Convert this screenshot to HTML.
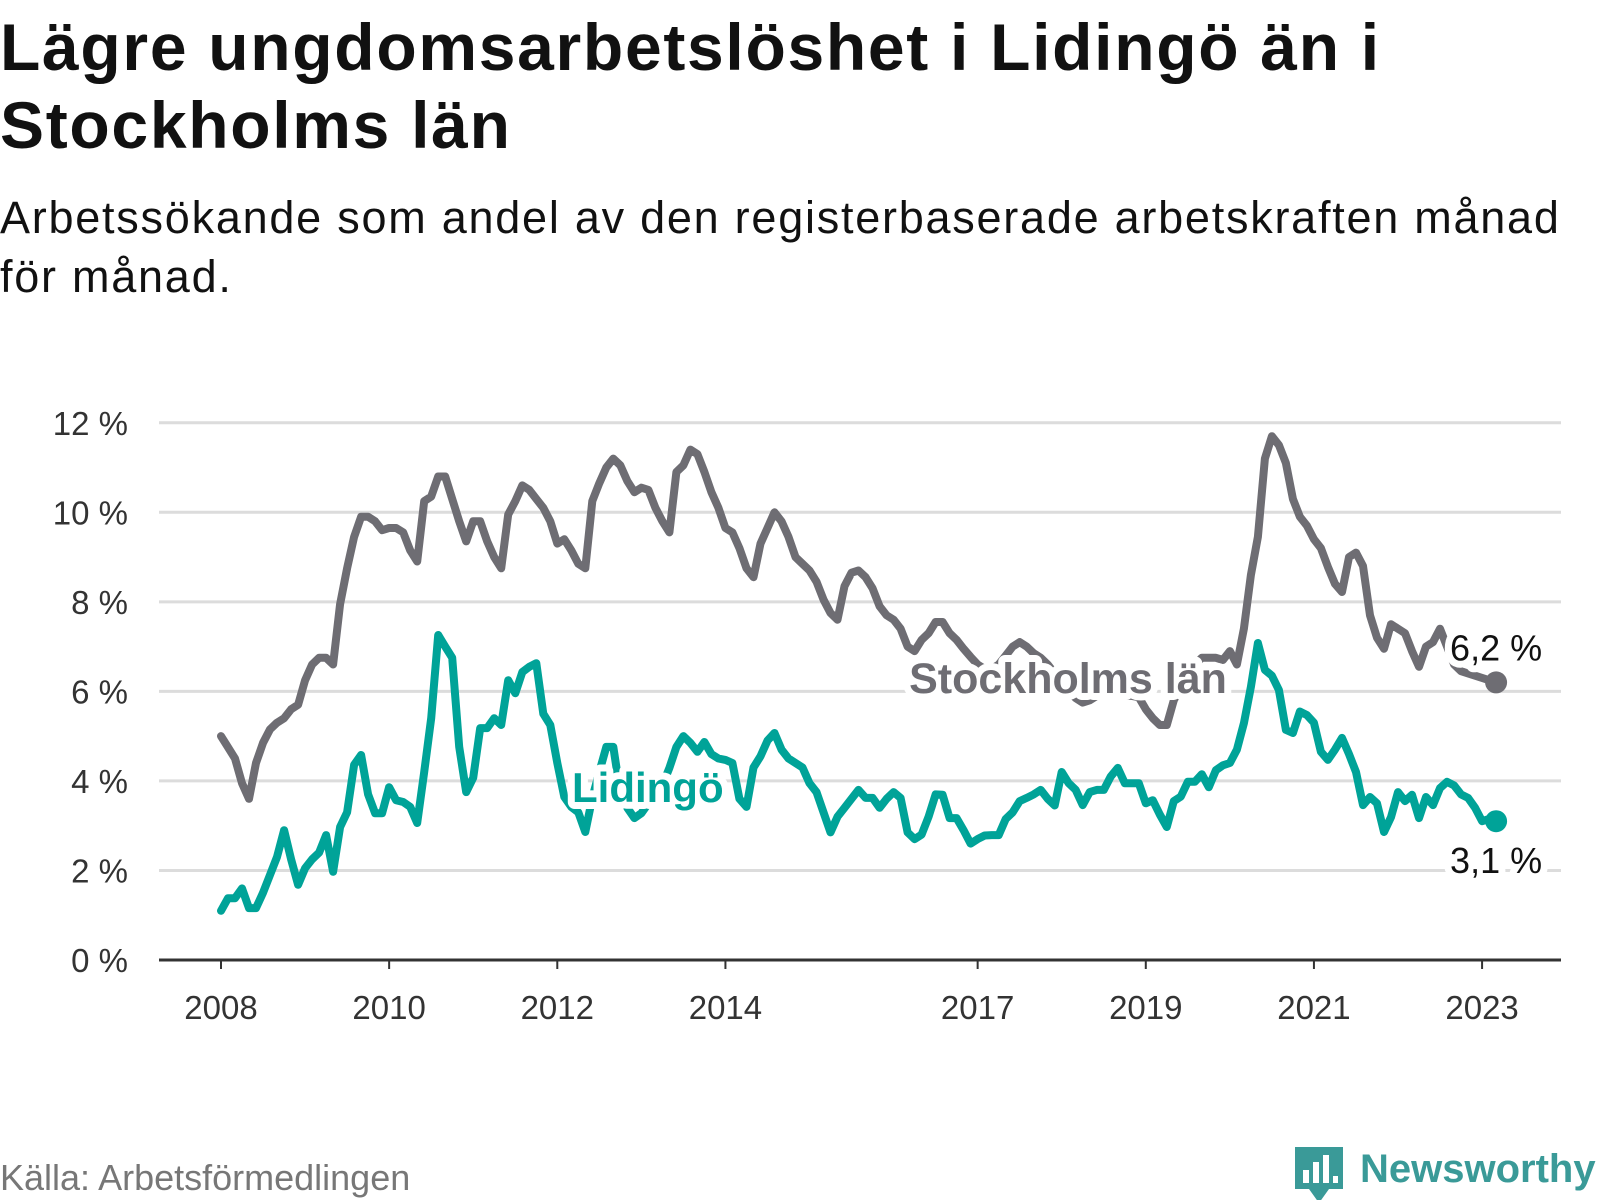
<!DOCTYPE html>
<html><head><meta charset="utf-8">
<style>
html,body{margin:0;padding:0;background:#fff;width:1600px;height:1200px;overflow:hidden;}
svg{display:block;}
</style></head>
<body>
<svg id="chart" width="1600" height="1200" xmlns="http://www.w3.org/2000/svg" font-family="'Liberation Sans', sans-serif">
  <text x="0" y="70" font-size="66" font-weight="bold" letter-spacing="1.7" fill="#111">Lägre ungdomsarbetslöshet i Lidingö än i</text>
  <text x="0" y="148" font-size="66" font-weight="bold" letter-spacing="1.7" fill="#111">Stockholms län</text>
  <text x="0" y="233" font-size="45" letter-spacing="1.75" fill="#111">Arbetssökande som andel av den registerbaserade arbetskraften månad</text>
  <text x="0" y="292" font-size="45" letter-spacing="1.75" fill="#111">för månad.</text>
  <g id="grid"></g>
  <g id="yaxis"></g>
  <g id="xaxis"></g>
  <g id="series"></g>
  <g id="labels"></g>
  <text x="0" y="1190" font-size="36" fill="#777">Källa: Arbetsförmedlingen</text>
  <g>
    <path d="M1295 1147 h48 v42 h-14 l-10 14 l-10 -14 h-14 z" fill="#3a9a98"/>
    <rect x="1303" y="1170" width="6" height="13" fill="#fff"/>
    <rect x="1313" y="1162" width="6" height="21" fill="#fff"/>
    <rect x="1323" y="1155" width="6" height="28" fill="#fff"/>
    <rect x="1333" y="1176" width="5" height="7" fill="#fff"/>
    <text x="1360" y="1182" font-size="40" font-weight="bold" fill="#3a9a98">Newsworthy</text>
  </g>
</svg>
<script>
const yTicks = [0, 2, 4, 6, 8, 10, 12];
const yTickLabels = ["0 %", "2 %", "4 %", "6 %", "8 %", "10 %", "12 %"];
const xTickYears = [2008, 2010, 2012, 2014, 2017, 2019, 2021, 2023];
const startYear = 2008;
const stockholm = [
5.0,4.75,4.5,3.95,3.6,4.4,4.85,5.15,5.3,5.4,5.6,5.7,
6.25,6.6,6.75,6.75,6.6,7.95,8.75,9.45,9.9,9.9,9.8,9.6,
9.65,9.65,9.55,9.15,8.9,10.25,10.35,10.8,10.8,10.3,9.8,9.35,
9.8,9.8,9.35,9.0,8.75,9.95,10.25,10.6,10.5,10.3,10.1,9.8,
9.3,9.4,9.15,8.85,8.75,10.25,10.65,11.0,11.2,11.05,10.7,10.45,
10.55,10.5,10.1,9.8,9.55,10.9,11.05,11.4,11.3,10.9,10.45,10.1,
9.65,9.55,9.2,8.75,8.55,9.3,9.65,10.0,9.8,9.45,9.0,8.85,
8.7,8.45,8.05,7.75,7.6,8.35,8.65,8.7,8.55,8.3,7.9,7.7,
7.6,7.4,7.0,6.9,7.15,7.3,7.55,7.55,7.3,7.15,6.95,6.77,
6.6,6.5,6.5,6.6,6.8,7.0,7.1,7.0,6.85,6.75,6.6,6.4,
6.2,6.0,5.85,5.75,5.8,5.9,6.0,6.1,6.0,5.9,5.9,5.87,
5.6,5.4,5.25,5.25,5.8,6.1,6.4,6.6,6.75,6.75,6.75,6.7,
6.9,6.6,7.4,8.6,9.45,11.2,11.7,11.5,11.1,10.3,9.9,9.7,
9.4,9.2,8.78,8.4,8.22,9.0,9.1,8.8,7.7,7.2,6.95,7.5,
7.4,7.3,6.9,6.55,7.0,7.1,7.4,7.0,6.6,6.45,6.4,6.35,
6.3,6.25,6.2];
const lidingo = [
1.1,1.38,1.38,1.6,1.16,1.16,1.5,1.9,2.3,2.9,2.25,1.68,
2.05,2.25,2.4,2.79,1.97,2.97,3.3,4.36,4.58,3.7,3.28,3.28,
3.86,3.57,3.53,3.42,3.06,4.2,5.4,7.26,7.0,6.75,4.76,3.75,
4.07,5.18,5.18,5.4,5.25,6.25,5.96,6.43,6.55,6.63,5.5,5.25,
4.4,3.64,3.42,3.3,2.86,3.62,4.2,4.76,4.76,3.73,3.4,3.17,
3.28,3.5,3.55,3.9,4.29,4.76,5.0,4.85,4.65,4.87,4.6,4.5,
4.47,4.4,3.6,3.42,4.3,4.55,4.9,5.07,4.7,4.5,4.4,4.3,
3.95,3.75,3.3,2.85,3.2,3.4,3.6,3.8,3.62,3.62,3.4,3.6,
3.75,3.62,2.85,2.7,2.8,3.2,3.7,3.69,3.17,3.17,2.9,2.6,
2.7,2.78,2.79,2.79,3.15,3.3,3.55,3.62,3.7,3.8,3.6,3.45,
4.2,3.95,3.8,3.46,3.75,3.8,3.8,4.1,4.29,3.95,3.95,3.95,
3.5,3.57,3.25,2.97,3.55,3.65,3.98,3.98,4.15,3.86,4.24,4.35,
4.4,4.7,5.29,6.1,7.08,6.48,6.35,6.03,5.14,5.07,5.55,5.47,
5.3,4.65,4.47,4.7,4.96,4.6,4.2,3.46,3.64,3.5,2.86,3.19,
3.75,3.55,3.69,3.17,3.64,3.46,3.84,3.98,3.9,3.7,3.62,3.4,
3.1,3.15,3.1];
const endLabels = ["6,2 %", "3,1 %"];

const NS = "http://www.w3.org/2000/svg";
const X0 = 221, PER_MONTH = 7.006, Y0 = 960, PER_PCT = 44.77;
function xScale(m){ return X0 + m * PER_MONTH; }
function yScale(v){ return Y0 - v * PER_PCT; }
function mk(tag, attrs, parent){ const e = document.createElementNS(NS, tag); for (const k in attrs) e.setAttribute(k, attrs[k]); parent.appendChild(e); return e; }

const grid = document.getElementById('grid'), yaxis = document.getElementById('yaxis'), xaxis = document.getElementById('xaxis');
yTicks.forEach((v, i) => {
  if (v > 0) {
    const l = mk('line', {x1: 159, x2: 1561, y1: yScale(v), y2: yScale(v), stroke: '#dcdcdc', 'stroke-width': 3}, grid);
    
    
  }
  const t = mk('text', {x: 128, y: yScale(v) + 12, 'text-anchor': 'end', 'font-size': 33, fill: '#333'}, yaxis);
  t.textContent = yTickLabels[i];
  
  
});
const ax = mk('line', {x1: 159, x2: 1561, y1: Y0, y2: Y0, stroke: '#333', 'stroke-width': 3}, xaxis);


xTickYears.forEach(yr => {
  const x = xScale((yr - startYear) * 12);
  const tk = mk('line', {x1: x, x2: x, y1: Y0, y2: Y0 + 9, stroke: '#333', 'stroke-width': 2}, xaxis);
  
  
  const t = mk('text', {x: x, y: 1019, 'text-anchor': 'middle', 'font-size': 33, fill: '#333'}, xaxis);
  t.textContent = yr;
  
  
});

const series = document.getElementById('series');
function drawLine(vals, color, name){
  const d = vals.map((v, i) => (i ? 'L' : 'M') + xScale(i).toFixed(1) + ' ' + yScale(v).toFixed(1)).join(' ');
  const p = mk('path', {d: d, fill: 'none', stroke: color, 'stroke-width': 8, 'stroke-linejoin': 'round', 'stroke-linecap': 'round'}, series);
  
  
  const n = vals.length - 1;
  const c = mk('circle', {cx: xScale(n), cy: yScale(vals[n]), r: 11, fill: color}, series);
  
  
}
drawLine(stockholm, '#6e6d73', 'stockholm');
drawLine(lidingo, '#00a398', 'lidingo');

const labels = document.getElementById('labels');
function halo(txt, attrs, name){
  const t = mk('text', Object.assign({stroke: '#fff', 'stroke-width': 14, 'paint-order': 'stroke', 'stroke-linejoin': 'round'}, attrs), labels);
  t.textContent = txt;
  
  
}
halo('Stockholms län', {x: 1068, y: 693, 'text-anchor': 'middle', 'font-size': 43, 'font-weight': 'bold', fill: '#6e6d73'}, 'stockholm-series-label');
halo('Lidingö', {x: 572, y: 802, 'font-size': 42, 'font-weight': 'bold', fill: '#00a398'}, 'lidingo-series-label');
const nLast = stockholm.length - 1;
halo(endLabels[0], {x: xScale(nLast), y: yScale(stockholm[nLast]) - 22, 'text-anchor': 'middle', 'font-size': 36, fill: '#111'}, 'stockholm-end-label');
halo(endLabels[1], {x: xScale(nLast), y: yScale(lidingo[nLast]) + 52, 'text-anchor': 'middle', 'font-size': 36, fill: '#111'}, 'lidingo-end-label');
</script>
</body></html>
